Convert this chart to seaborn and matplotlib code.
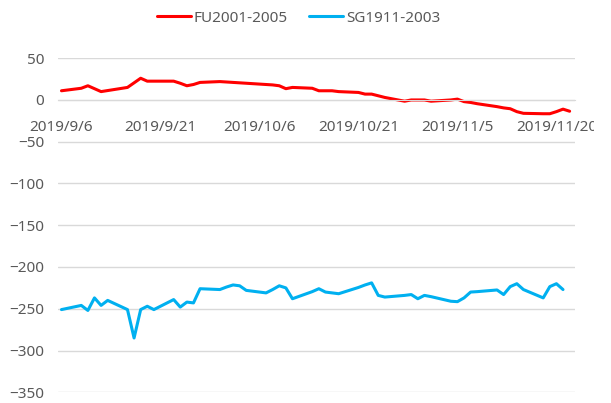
import numpy as np
import pandas as pd
import seaborn as sns
import matplotlib.pyplot as plt
from matplotlib.lines import Line2D
from matplotlib.transforms import Bbox

# trading days (weekdays) 2019/9/6 - 2019/11/22
dates = pd.bdate_range('2019-09-06', '2019-11-22')

nan = np.nan
# FU2001-2005 spread (no trading on China holidays)
fu = [11, 14, 17, 13.5, 10, nan, 15, 20.5, 26, 22.5, 22.5, 22.5, 20, 17, 18.5, 21, 22,
      nan, nan, nan, nan, nan, 18, 17, 13.5, 15, 14, 11, 11, 11, 10, 9, 7, 7, 5, 3,
      -1.5, 0, 0, 0,
      -1.5, 0, 1, -2, -3, -4.5, -8, -9.5, -10.5, -14, -16, -16.5, -16.5, -14, -11, -13.5]
# SG1911-2003 spread
sg = [-251, -246, -252, -237, -246, -240, -251, -285, -251, -247, -251, -239, -248, -242, -243, -226, -227,
      -224, -221.5, -222.5, -228, -231, -227, -222.5, -225, -238, -229.5, -226, -230, -231, -232,
      -224.5, -221.5, -219, -234, -236, -234, -233, -238, -234,
      -235.5, -241, -241.5, -237, -230, -229.5, -227.5, -233, -223.5, -220, -227, -237, -223.5, -220, -227, nan]

names = ['FU2001-2005', 'SG1911-2003']
colors = ['#FF0000', '#00B0F0']
xticks = pd.date_range('2019-09-06', periods=6, freq='15D')
xticklabels = [f'{d.year}/{d.month}/{d.day}' for d in xticks]
yticks = list(range(-350, 51, 50))

df = pd.DataFrame({'date': dates, names[0]: fu, names[1]: sg})
df = df.melt(id_vars='date', var_name='series', value_name='value').dropna()

sns.set_style('white')
plt.rcParams['font.family'] = ['Noto Sans', 'DejaVu Sans']
plt.rcParams['font.size'] = 11

fig = plt.figure(figsize=(6.11, 4.03), dpi=100)
ax = fig.add_axes([0.0949, 0.0266, 0.846, 0.829])
sns.lineplot(data=df, x='date', y='value', hue='series', hue_order=names,
             palette=colors, linewidth=2.2, legend=False, ax=ax)

start = pd.Timestamp('2019-09-06')
ax.set_xlim(start - pd.Timedelta(days=0.53), start + pd.Timedelta(days=77.8))
ax.set_ylim(-350, 50)
ax.set_yticks(yticks)
ax.set_xticks(xticks)
ax.set_xticklabels(xticklabels)
ax.set_xlabel('')
ax.set_ylabel('')
ax.grid(axis='y', color='#D9D9D9', linewidth=1)
ax.grid(axis='x', visible=False)
for s in ['top', 'right', 'left']:
    ax.spines[s].set_visible(False)
ax.spines['bottom'].set_position(('data', 0))
ax.spines['bottom'].set_color('#D9D9D9')
ax.tick_params(axis='both', length=0, colors='#595959', labelsize=11)
ax.tick_params(axis='y', pad=10)
ax.tick_params(axis='x', pad=14.5)

# label of the last tick runs off the chart area
fig.canvas.draw()
for lab in ax.get_xticklabels():
    lab.set_clip_box(Bbox.from_extents(0, 0, 594, 403))
    lab.set_clip_on(True)

handles = [Line2D([], [], color=c, linewidth=2.2) for c in colors]
leg = fig.legend(handles, names, loc='center', bbox_to_anchor=(0.4885, 0.955), ncol=2,
                 frameon=False, handlelength=2.2, handletextpad=0.2, columnspacing=1.4,
                 fontsize=11)
for t in leg.get_texts():
    t.set_color('#595959')

fig.savefig('out.png', dpi=100)
